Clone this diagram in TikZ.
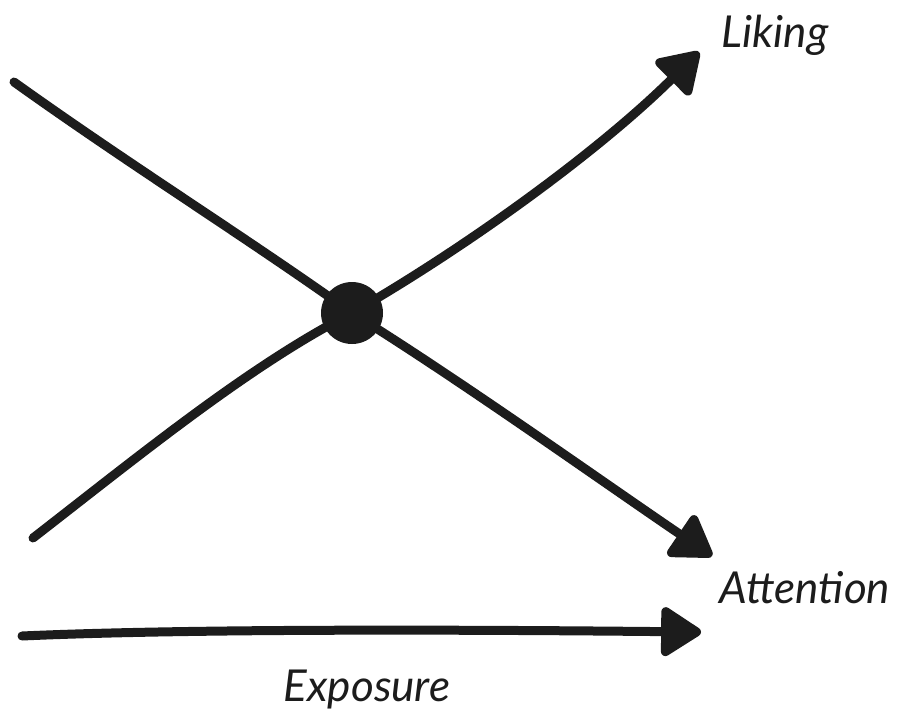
\documentclass[tikz,border=0pt]{standalone}
\usepackage{fontspec}
\setmainfont{Lato}
\usetikzlibrary{arrows.meta}
\definecolor{ink}{RGB}{28,28,28}
\tikzset{
  pen/.style={draw=ink, line width=9pt, line cap=round},
  arr/.style={pen, -{Triangle[length=44pt,width=54pt,round]}},
  lbl/.style={text=ink, font=\itshape\fontsize{44}{44}\selectfont, inner sep=0pt}
}
\begin{document}
\begin{tikzpicture}[x=1pt,y=-1pt]
\useasboundingbox (0,0) rectangle (900,712);
\node[circle, fill=ink, minimum size=62pt, inner sep=0pt] (c) at (352,313) {};
\coordinate (a1) at (14,82);
\coordinate (a2) at (712,556);
\coordinate (b1) at (33,538);
\coordinate (b2) at (699,52);
\coordinate (e1) at (22,636);
\coordinate (e2) at (701,632);
\draw[pen] (a1) .. controls (130,165) and (250,240) .. (c.center);
\draw[arr] (c.center) .. controls (460,380) and (600,480) .. (a2);
\draw[pen] (b1) .. controls (140,455) and (250,365) .. (c.center);
\draw[arr] (c.center) .. controls (470,245) and (600,150) .. (b2);
\draw[arr] (e1) .. controls (200,628) and (500,630) .. (e2);
\node[lbl] (lk) at (775,35) {Liking};
\node[lbl] (at) at (805,588) {Attention};
\node[lbl] (ex) at (367,690) {Exposure};
\end{tikzpicture}
\end{document}
